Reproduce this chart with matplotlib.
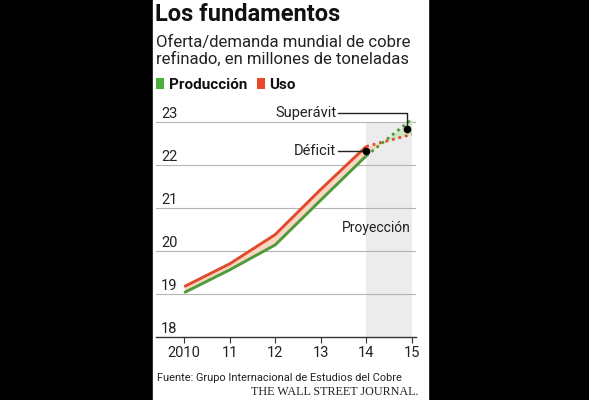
import numpy as np
import matplotlib
matplotlib.use('Agg')
import matplotlib.pyplot as plt
import matplotlib.transforms as mtransforms
from matplotlib.patches import Rectangle

plt.rcParams['font.family'] = ['Roboto', 'DejaVu Sans']

# data (millones de toneladas)
years = [2010, 2011, 2012, 2013, 2014, 2015]
year_labels = ['2010', '11', '12', '13', '14', '15']
produccion = [19.02, 19.55, 20.13, 21.17, 22.20, 23.05]
uso = [19.16, 19.69, 20.37, 21.42, 22.42, 22.70]
y_ticks = [18, 19, 20, 21, 22, 23]
proj_start = 2014

RED = '#e14b2b'
GREEN = '#4e9b3a'
PEACH = '#f8d6c2'
LGREEN = '#cfe6c2'

W, H = 589, 400
fig = plt.figure(figsize=(W / 100, H / 100), dpi=100)
fig.patch.set_facecolor('black')
fig.add_artist(Rectangle((153 / W, 0), (428 - 153) / W, 1, transform=fig.transFigure,
                         color='white', zorder=0))


def fx(px):
    return px / W


def fy(py):
    return 1 - py / H


ax = fig.add_axes([fx(156), fy(336.5), fx(416) - fx(156), fy(110.75) - fy(336.5)])
ax.set_facecolor('none')
ax.set_xlim(2009.38, 2015.095)
ax.set_ylim(18, 23.25)

# projection band
ax.fill_between([proj_start, years[-1]], y_ticks[0], y_ticks[-1], color='#ececec', lw=0, zorder=0)

# gridlines and y labels
ylab_tr = mtransforms.blended_transform_factory(ax.transAxes, ax.transData)
for v in y_ticks:
    if v != y_ticks[0]:
        ax.axhline(v, color='#b5b5b5', lw=0.8, zorder=1)
    ax.text(0.02, v + 0.08, str(v), transform=ylab_tr, ha='left', va='baseline',
            fontsize=10.5, color='#222222')

yrs = np.array(years, dtype=float)
prod = np.array(produccion)
dem = np.array(uso)

ax.fill_between(yrs, prod, dem, where=dem >= prod, interpolate=True, color=PEACH, lw=0, zorder=2)
ax.fill_between(yrs, prod, dem, where=prod >= dem, interpolate=True, color=LGREEN, lw=0, zorder=2)

hist = yrs <= proj_start
proj = yrs >= proj_start
ax.plot(yrs[hist], dem[hist], color=RED, lw=2.1, zorder=3, solid_capstyle='butt')
ax.plot(yrs[hist], prod[hist], color=GREEN, lw=2.1, zorder=3, solid_capstyle='butt')
ax.plot(yrs[proj], dem[proj], color=RED, lw=2.0, ls=(0, (1, 1.4)), zorder=3)
ax.plot(yrs[proj], prod[proj], color=GREEN, lw=2.0, ls=(0, (1, 1.4)), zorder=3)

# annotation dots: midpoint between the two series
def_x = proj_start
def_y = (np.interp(def_x, yrs, prod) + np.interp(def_x, yrs, dem)) / 2
sup_x = 2014.9
sup_y = (np.interp(sup_x, yrs, prod) + np.interp(sup_x, yrs, dem)) / 2
ax.plot([def_x, sup_x], [def_y, sup_y], 'o', color='black', ms=4.5, zorder=5)

ax.plot([2013.37, def_x], [def_y, def_y], color='#222222', lw=1.0, zorder=4)
ax.text(2013.33, def_y, 'Déficit', ha='right', va='center', fontsize=10.5, color='#222222')
ax.plot([2013.39, sup_x, sup_x], [23.19, 23.19, sup_y], color='#222222', lw=1.0, zorder=4,
        clip_on=False)
ax.text(2013.35, 23.19, 'Superávit', ha='right', va='center', fontsize=10.5, color='#222222')
ax.text(2014.99, 20.52, 'Proyección', ha='right', va='center', fontsize=10, color='#222222')

# axes styling
for s in ['top', 'right', 'left']:
    ax.spines[s].set_visible(False)
ax.spines['bottom'].set_color('#333333')
ax.spines['bottom'].set_linewidth(1.0)
ax.set_yticks([])
ax.set_xticks(years)
ax.set_xticklabels(year_labels, fontsize=10.5, color='#222222')
ax.tick_params(axis='x', length=4.5, width=0.8, color='#333333', pad=2.5)

# titles
fig.text(fx(155), fy(21), 'Los fundamentos', fontsize=17, fontweight='bold',
         color='#111111', va='baseline')
fig.text(fx(156), fy(47), 'Oferta/demanda mundial de cobre', fontsize=12,
         color='#222222', va='baseline')
fig.text(fx(156), fy(64), 'refinado, en millones de toneladas', fontsize=12,
         color='#222222', va='baseline')

# legend
fig.add_artist(Rectangle((fx(156), fy(89)), fx(164) - fx(156), fy(78) - fy(89),
                         transform=fig.transFigure, color='#4caf3e', lw=0))
fig.text(fx(169), fy(89), 'Producción', fontsize=11, fontweight='bold', color='#111111',
         va='baseline')
fig.add_artist(Rectangle((fx(257), fy(89)), fx(265) - fx(257), fy(78) - fy(89),
                         transform=fig.transFigure, color='#e8472a', lw=0))
fig.text(fx(269), fy(89), 'Uso', fontsize=11, fontweight='bold', color='#111111',
         va='baseline')

# source
fig.text(fx(157), fy(381), 'Fuente: Grupo Internacional de Estudios del Cobre', fontsize=7.9,
         color='#222222', va='baseline')
fig.text(fx(418), fy(395), 'THE WALL STREET JOURNAL.', fontsize=8.7, family='Liberation Serif',
         color='#222222', va='baseline', ha='right')

fig.savefig('out.png', dpi=100, facecolor=fig.get_facecolor())
